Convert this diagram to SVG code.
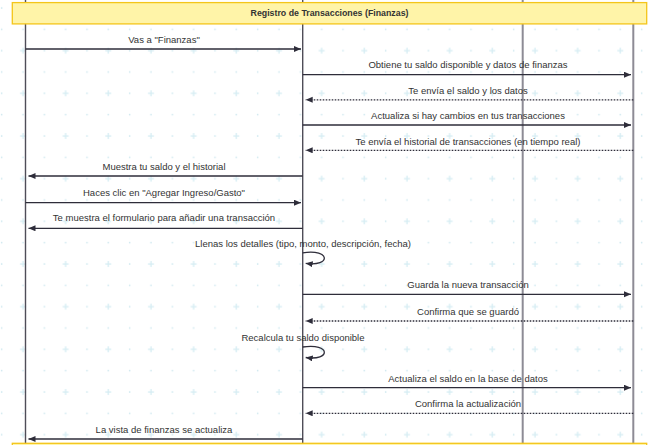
<svg xmlns="http://www.w3.org/2000/svg" width="652" height="445" viewBox="0 0 652 445">
<defs>
<pattern id="grid" patternUnits="userSpaceOnUse" x="0" y="0" width="42.667" height="42.667">
<rect x="0.9" y="7.25" width="1.5" height="1.5" fill="#cfe8ef"/>
<rect x="0.9" y="28.58" width="1.5" height="1.5" fill="#cfe8ef"/>
<rect x="22.25" y="28.58" width="1.5" height="1.5" fill="#cfe8ef"/>
<rect x="20" y="7.35" width="6" height="1.3" fill="#d6edf3"/>
<rect x="22.35" y="5" width="1.3" height="6" fill="#d6edf3"/>
</pattern>
<marker id="arrow" markerUnits="userSpaceOnUse" markerWidth="8" markerHeight="7" refX="7" refY="3" orient="auto">
<path d="M0,0 L7,3 L0,6 z" fill="#2e2d3a"/>
</marker>
<style>
.life{fill:none}
.life-a{stroke:#4f4d58;stroke-width:1.4}
.life-b{stroke:#8d8b95;stroke-width:2}
.msg{fill:none;stroke:#2e2d3a;stroke-width:1.3;marker-end:url(#arrow)}
.dot{stroke-dasharray:1.6,1.4}
.lbl{font-family:"Liberation Sans",Arial,sans-serif;font-size:9.5px;fill:#333;text-anchor:middle}
.note{fill:#fff4a8;stroke:#f4c51a;stroke-width:1.3}
.title{font-family:"Liberation Sans",Arial,sans-serif;font-size:8.8px;font-weight:bold;fill:#333;text-anchor:middle}
</style>
</defs>
<rect x="0" y="0" width="652" height="445" fill="#ffffff"/>
<rect x="0" y="0" width="652" height="445" fill="url(#grid)"/>

<g id="lifeline-tu"><line class="life life-a" x1="25.5" y1="0" x2="25.5" y2="445"/></g>
<g id="lifeline-app"><line class="life life-a" x1="302.7" y1="0" x2="302.7" y2="445"/></g>
<g id="lifeline-servidor"><line class="life life-b" x1="522.7" y1="0" x2="522.7" y2="445"/></g>
<g id="lifeline-basedatos"><line class="life life-b" x1="633.3" y1="0" x2="633.3" y2="445"/></g>

<g id="note-title">
<rect class="note" x="12.3" y="2.6" width="634.4" height="21.3"/>
<text class="title" x="329.5" y="16.3">Registro de Transacciones (Finanzas)</text>
</g>
<g id="note-bottom">
<rect class="note" x="12.3" y="443.3" width="634.4" height="21.3"/>
</g>

<g id="connectors">
<line class="msg" x1="25.5" y1="49" x2="301" y2="49"/>
<text class="lbl" x="164" y="42.5">Vas a "Finanzas"</text>

<line class="msg" x1="302.7" y1="74.7" x2="631" y2="74.7"/>
<text class="lbl" x="468" y="68.3">Obtiene tu saldo disponible y datos de finanzas</text>

<line class="msg dot" x1="633.3" y1="99.8" x2="305.7" y2="99.8"/>
<text class="lbl" x="468" y="93.5">Te envía el saldo y los datos</text>

<line class="msg" x1="302.7" y1="125" x2="631" y2="125"/>
<text class="lbl" x="468" y="119">Actualiza si hay cambios en tus transacciones</text>

<line class="msg dot" x1="633.3" y1="150.3" x2="305.7" y2="150.3"/>
<text class="lbl" x="468" y="144.5">Te envía el historial de transacciones (en tiempo real)</text>

<line class="msg" x1="302.7" y1="176" x2="28.5" y2="176"/>
<text class="lbl" x="164" y="170">Muestra tu saldo y el historial</text>

<line class="msg" x1="25.5" y1="202.7" x2="301" y2="202.7"/>
<text class="lbl" x="164" y="195.5">Haces clic en "Agregar Ingreso/Gasto"</text>

<line class="msg" x1="302.7" y1="228.3" x2="28.5" y2="228.3"/>
<text class="lbl" x="164" y="220.8">Te muestra el formulario para añadir una transacción</text>

<path class="msg" d="M302.7,252.8 C331,248.5 331,267 305.7,263.3"/>
<text class="lbl" x="303" y="247.3">Llenas los detalles (tipo, monto, descripción, fecha)</text>

<line class="msg" x1="302.7" y1="294.3" x2="631" y2="294.3"/>
<text class="lbl" x="468" y="288.3">Guarda la nueva transacción</text>

<line class="msg dot" x1="633.3" y1="321" x2="305.7" y2="321"/>
<text class="lbl" x="468" y="314.5">Confirma que se guardó</text>

<path class="msg" d="M302.7,347 C331,342.7 331,361.2 305.7,357.5"/>
<text class="lbl" x="303" y="340.5">Recalcula tu saldo disponible</text>

<line class="msg" x1="302.7" y1="387.7" x2="631" y2="387.7"/>
<text class="lbl" x="468" y="381.5">Actualiza el saldo en la base de datos</text>

<line class="msg dot" x1="633.3" y1="413.3" x2="305.7" y2="413.3"/>
<text class="lbl" x="468" y="407.3">Confirma la actualización</text>

<line class="msg" x1="302.7" y1="439" x2="28.5" y2="439"/>
<text class="lbl" x="164" y="432.5">La vista de finanzas se actualiza</text>
</g>
</svg>
